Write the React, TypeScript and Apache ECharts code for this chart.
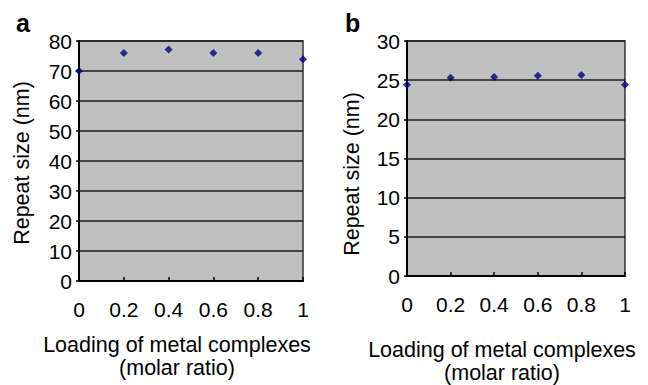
import React, { useEffect, useRef } from "react";
import * as echarts from "echarts";

const loading = [0, 0.2, 0.4, 0.6, 0.8, 1];
const repeatA = [70, 76, 77.2, 76, 76, 73.9];
const repeatB = [24.4, 25.3, 25.4, 25.55, 25.65, 24.4];
const panelLabels = ["a", "b"];
const xTitle = "Loading of metal complexes\n(molar ratio)";
const yTitle = "Repeat size (nm)";

const FONT = "'Liberation Sans', Arial, sans-serif";

export default function App() {
  const ref = useRef<HTMLDivElement>(null);
  useEffect(() => {
    if (!ref.current) return;
    const chart = echarts.init(ref.current, null, { renderer: "svg" });
    const xAxisBase = (gridIndex: number) => ({
      type: "value",
      gridIndex,
      min: 0,
      max: 1,
      interval: 0.2,
      axisLine: { show: true, onZero: false, lineStyle: { color: "#000", width: 2 } },
      axisTick: { show: true, inside: true, length: 4, lineStyle: { color: "#000", width: 1.5 } },
      axisLabel: {
        color: "#000",
        fontSize: 21,
        fontFamily: FONT,
        margin: 18,
        formatter: (v: number) => String(Math.round(v * 10) / 10),
      },
      splitLine: { show: false },
    });
    const yAxisBase = (gridIndex: number, max: number, interval: number) => ({
      type: "value",
      gridIndex,
      min: 0,
      max,
      interval,
      axisLine: { show: true, lineStyle: { color: "#000", width: 2 } },
      axisTick: { show: true, inside: false, length: 3, lineStyle: { color: "#000", width: 1.5 } },
      axisLabel: { color: "#000", fontSize: 21, fontFamily: FONT, margin: 7 },
      splitLine: { show: true, lineStyle: { color: "#1a1a1a", width: 1.5 } },
    });
    const series = (idx: number, data: number[]) => ({
      type: "scatter",
      xAxisIndex: idx,
      yAxisIndex: idx,
      symbol: "diamond",
      symbolSize: 8,
      clip: false,
      itemStyle: { color: "#000080" },
      data: loading.map((x, i) => [x, data[i]]),
    });
    const titleFont = `21.5px ${FONT}`;
    chart.setOption({
      animation: false,
      grid: [
        { left: 79, right: 345, top: 41, bottom: 104, outerBoundsMode: "none", containLabel: false, show: true, backgroundColor: "#c0c0c0", borderColor: "#333", borderWidth: 1.5 },
        { left: 407, right: 23, top: 41, bottom: 109, outerBoundsMode: "none", containLabel: false, show: true, backgroundColor: "#c0c0c0", borderColor: "#333", borderWidth: 1.5 },
      ],
      xAxis: [xAxisBase(0), xAxisBase(1)],
      yAxis: [yAxisBase(0, 80, 10), yAxisBase(1, 30, 5)],
      series: [series(0, repeatA), series(1, repeatB)],
      graphic: [
        { type: "text", x: 22, y: 163, rotation: Math.PI / 2, style: { text: yTitle, align: "center", verticalAlign: "middle", fill: "#000", font: titleFont } },
        { type: "text", x: 352, y: 174, rotation: Math.PI / 2, style: { text: yTitle, align: "center", verticalAlign: "middle", fill: "#000", font: titleFont } },
        { type: "text", x: 177, y: 333, style: { text: xTitle, align: "center", verticalAlign: "top", lineHeight: 23, fill: "#000", font: titleFont } },
        { type: "text", x: 502, y: 338, style: { text: xTitle, align: "center", verticalAlign: "top", lineHeight: 23, fill: "#000", font: titleFont } },
        { type: "text", x: 16, y: 23, style: { text: panelLabels[0], align: "left", verticalAlign: "middle", fill: "#000", font: `bold 25px ${FONT}` } },
        { type: "text", x: 345, y: 23, style: { text: panelLabels[1], align: "left", verticalAlign: "middle", fill: "#000", font: `bold 25px ${FONT}` } },
      ],
    });
    return () => chart.dispose();
  }, []);
  return <div ref={ref} style={{ width: 648, height: 385, position: "absolute", left: 0, top: 0 }} />;
}
